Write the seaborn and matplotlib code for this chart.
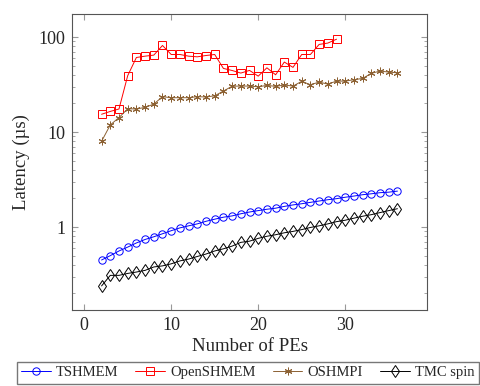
import numpy as np
import pandas as pd
import matplotlib
matplotlib.use("Agg")
import matplotlib.pyplot as plt
import seaborn as sns
from matplotlib.ticker import FuncFormatter, LogLocator, FixedLocator

# =====================================
# DATA
# =====================================

pes = list(range(2, 37))
pes_open = list(range(2, 30))

tshmem = [0.45, 0.50, 0.56, 0.615, 0.68, 0.74, 0.79, 0.85, 0.915, 0.98,
          1.03, 1.08, 1.15, 1.21, 1.27, 1.31, 1.38, 1.44, 1.49, 1.54,
          1.58, 1.65, 1.71, 1.76, 1.82, 1.88, 1.94, 1.99, 2.06, 2.12,
          2.19, 2.24, 2.30, 2.33, 2.39]

openshmem = [15.4, 16.5, 17.5, 39.2, 61, 63, 64.6, 81.6, 65.6, 65.6,
             63, 62, 64, 65.6, 46.8, 44.5, 41.8, 44.6, 38.8, 47.5,
             40.1, 54.6, 48, 65.6, 65.6, 83.7, 86.5, 95]

oshmpi = [8.0, 11.9, 14.2, 17.6, 17.5, 18.2, 19.7, 23.6, 23.0, 23.0,
          23.0, 23.6, 23.4, 24.1, 27.0, 30.4, 30.5, 30.5, 30.0, 31.0,
          30.3, 31.3, 30.5, 34.2, 31.5, 33.6, 32.0, 34.4, 34.4, 35.6,
          36.7, 41.5, 43.9, 42.8, 42.1]

tmc_spin = [0.24, 0.31, 0.31, 0.325, 0.336, 0.35, 0.38, 0.39, 0.41, 0.44,
            0.46, 0.49, 0.52, 0.56, 0.59, 0.63, 0.69, 0.71, 0.76, 0.80,
            0.83, 0.87, 0.90, 0.94, 0.99, 1.03, 1.08, 1.14, 1.18, 1.24,
            1.30, 1.35, 1.42, 1.49, 1.56]

x_ticks = [0, 10, 20, 30]
y_ticks = [1, 10, 100]

# =====================================
# STYLE
# =====================================

sns.set_style("ticks")
plt.rcParams['font.family'] = ['Liberation Serif', 'DejaVu Serif']

brown = (0.55, 0.38, 0.2)

fig = plt.figure(figsize=(4.8, 3.86), dpi=100)
ax = fig.add_axes([0.15, 0.197, 0.7396, 0.7667])

sns.lineplot(x=pes, y=tshmem, ax=ax, color='blue', lw=0.7,
             marker='o', ms=5.3, mfc='none', mec='blue', mew=0.7,
             label='TSHMEM')
sns.lineplot(x=pes_open, y=openshmem, ax=ax, color='red', lw=0.7,
             marker='s', ms=5.8, mfc='none', mec='red', mew=0.7,
             label='OpenSHMEM')
sns.lineplot(x=pes, y=oshmpi, ax=ax, color=brown, lw=0.7,
             marker=(6, 2, 0), ms=5.5, mec=brown, mew=0.7,
             label='OSHMPI')
sns.lineplot(x=pes, y=tmc_spin, ax=ax, color='black', lw=0.7,
             marker='d', ms=6, mfc='none', mec='black', mew=0.7,
             label='TMC spin')

# =====================================
# AXES
# =====================================

ax.set_yscale('log')
ax.set_xlim(-1.4, 39.4)
ax.set_ylim(0.134, 175)

ax.xaxis.set_major_locator(FixedLocator(x_ticks))
ax.yaxis.set_major_locator(FixedLocator(y_ticks))
ax.yaxis.set_minor_locator(LogLocator(base=10, subs=np.arange(2, 10)))
ax.yaxis.set_major_formatter(FuncFormatter(lambda v, p: f"{v:g}"))
ax.yaxis.set_minor_formatter(FuncFormatter(lambda v, p: ""))

ax.tick_params(which='both', direction='in', top=True, right=True,
               labelsize=13, color='#999999', pad=5)
ax.tick_params(which='major', length=4.5, width=0.8)
ax.tick_params(which='minor', length=2.5, width=0.6)
for s in ax.spines.values():
    s.set_color('#555555')
    s.set_linewidth(0.8)

ax.set_xlabel("Number of PEs", fontsize=13.5, labelpad=3)
ax.set_ylabel("Latency (µs)", fontsize=13.5, labelpad=6)

# legend below, spanning the width
ax.get_legend().remove()
handles, labels = ax.get_legend_handles_labels()
fig.legend(handles, labels, loc='upper left', bbox_to_anchor=(0.035, 0.063),
           ncol=4, frameon=True, fancybox=False, edgecolor='#555555',
           fontsize=10.5, handlelength=2.05, columnspacing=1.15,
           borderpad=0.3, handletextpad=0.35, borderaxespad=0)

fig.savefig("out.png", dpi=100)
